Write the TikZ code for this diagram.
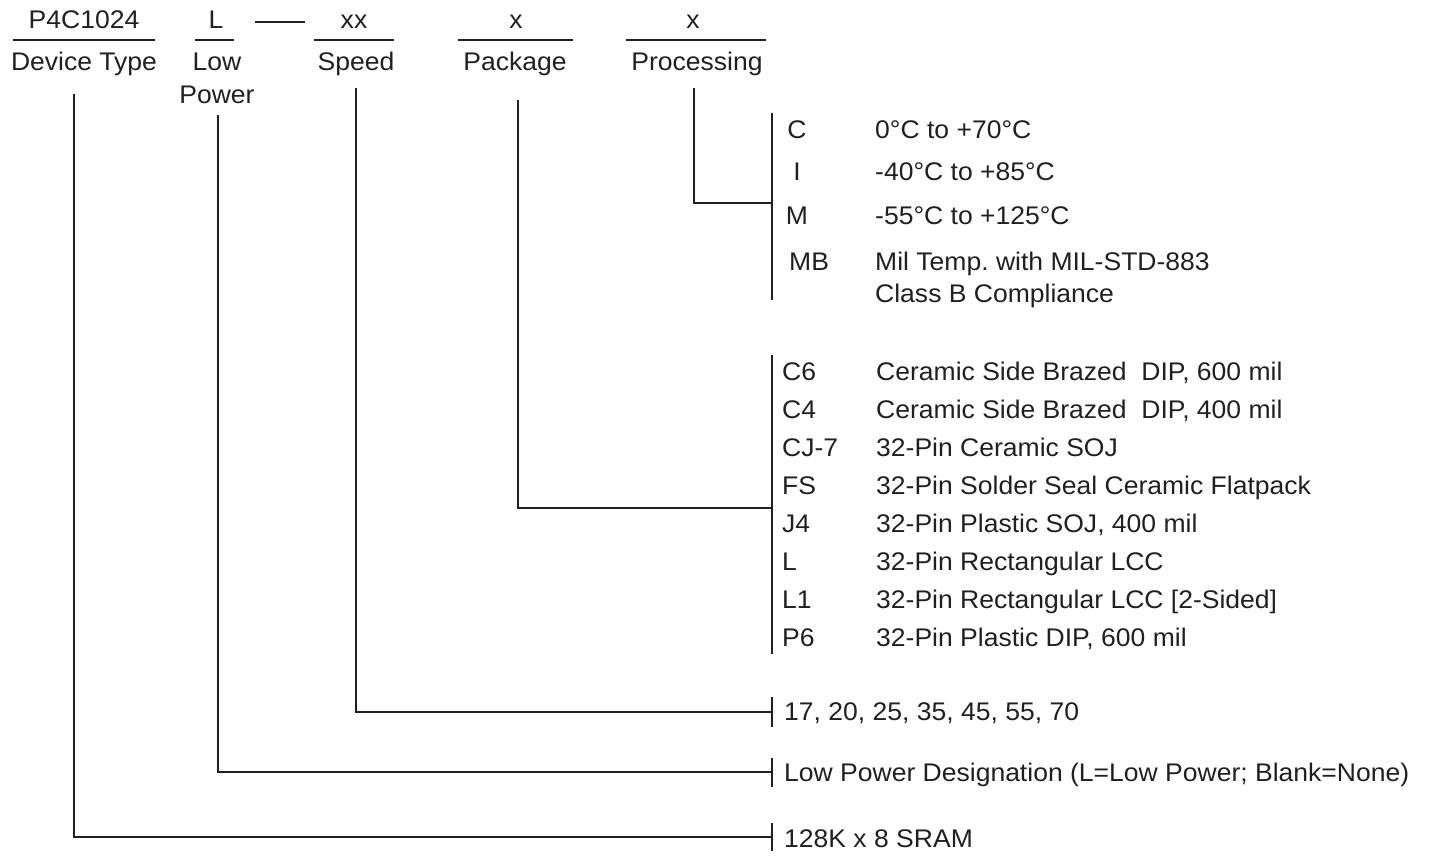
\documentclass[tikz,border=0pt]{standalone}
\usepackage{fontspec}
\setmainfont{Liberation Sans}[FakeStretch=1.04]
\definecolor{ink}{RGB}{35,31,32}
\tikzset{
  lbl/.style={inner sep=0pt, font=\fontsize{25.5}{29}\selectfont, text=ink},
  lt/.style={lbl, anchor=base west},
  ct/.style={lbl, anchor=base},
  ln/.style={line width=1.9pt, draw=ink},
}
\begin{document}
\begin{tikzpicture}[x=1pt,y=-1pt]
\useasboundingbox (0,0) rectangle (1429,856);

% ---------- header ----------
\node[ct] (pn)   at (84,29)  {P4C1024};
\node[ct] (dev)  at (84,71)  {Device Type};
\node[ct] (lv)   at (216,29) {L};
\node[ct] (low)  at (217,71) {Low};
\node[ct] (pow)  at (217,104) {Power};
\node[ct] (xx)   at (354,29) {xx};
\node[ct] (spd)  at (356,71) {Speed};
\node[ct] (xp)   at (516,29) {x};
\node[ct] (pkg)  at (515,71) {Package};
\node[ct] (xq)   at (693,29) {x};
\node[ct] (proc) at (697,71) {Processing};

\draw[ln] (13,40) -- (155,40);
\draw[ln] (195,40) -- (234,40);
\draw[ln] (255,22) -- (305,22);
\draw[ln] (314,40) -- (394,40);
\draw[ln] (458,40) -- (573,40);
\draw[ln] (626,40) -- (766,40);

% ---------- connector ends ----------
\coordinate (devT) at (74,94);
\coordinate (lowT) at (218,115);
\coordinate (spdT) at (356,88);
\coordinate (pkgT) at (518,100);
\coordinate (proT) at (694,88);

\coordinate (procTop) at (772,113);
\coordinate (procBot) at (772,300);
\coordinate (procJ)   at (772,203);
\coordinate (pkgTop)  at (772,355);
\coordinate (pkgBot)  at (772,654);
\coordinate (pkgJ)    at (772,508);
\coordinate (spdJ)    at (772,712);
\coordinate (spdA)    at (772,697);
\coordinate (spdB)    at (772,727);
\coordinate (lowJ)    at (772,772);
\coordinate (lowA)    at (772,758);
\coordinate (lowB)    at (772,787);
\coordinate (devJ)    at (772,837);
\coordinate (devA)    at (772,823);
\coordinate (devB)    at (772,851);

% buses and ticks
\draw[ln] (procTop) -- (procBot);
\draw[ln] (pkgTop) -- (pkgBot);
\draw[ln] (spdA) -- (spdB);
\draw[ln] (lowA) -- (lowB);
\draw[ln] (devA) -- (devB);

% connectors
\draw[ln] (proT) |- (procJ);
\draw[ln] (pkgT) |- (pkgJ);
\draw[ln] (spdT) |- (spdJ);
\draw[ln] (lowT) |- (lowJ);
\draw[ln] (devT) |- (devJ);

% ---------- processing ----------
\node[ct] (pC)  at (797,138.5) {C};
\node[ct] (pI)  at (797,180.5) {I};
\node[ct] (pM)  at (797,224.5) {M};
\node[lt] (pMB) at (789,270)   {MB};
\node[lt] (dC)  at (875,138.5) {0°C to +70°C};
\node[lt] (dI)  at (875,180.5) {-40°C to +85°C};
\node[lt] (dM)  at (875,224.5) {-55°C to +125°C};
\node[lt] (dMB) at (875,270)   {Mil Temp.\ with MIL-STD-883};
\node[lt] (dMB2) at (875,302)  {Class B Compliance};

% ---------- package ----------
\node[lt] (kC6) at (782,380) {C6};
\node[lt] (kC4) at (782,418) {C4};
\node[lt] (kCJ) at (782,456) {CJ-7};
\node[lt] (kFS) at (782,494.5) {FS};
\node[lt] (kJ4) at (782,532.5) {J4};
\node[lt] (kL)  at (782,570.5) {L};
\node[lt] (kL1) at (782,608.5) {L1};
\node[lt] (kP6) at (782,646.5) {P6};
\node[lt] (tC6) at (876,380) {Ceramic Side Brazed~ DIP, 600 mil};
\node[lt] (tC4) at (876,418) {Ceramic Side Brazed~ DIP, 400 mil};
\node[lt] (tCJ) at (876,456) {32-Pin Ceramic SOJ};
\node[lt] (tFS) at (876,494.5) {32-Pin Solder Seal Ceramic Flatpack};
\node[lt] (tJ4) at (876,532.5) {32-Pin Plastic SOJ, 400 mil};
\node[lt] (tL)  at (876,570.5) {32-Pin Rectangular LCC};
\node[lt] (tL1) at (876,608.5) {32-Pin Rectangular LCC [2-Sided]};
\node[lt] (tP6) at (876,646.5) {32-Pin Plastic DIP, 600 mil};

% ---------- bottom ----------
\node[lt] (sp)   at (784,720) {17, 20, 25, 35, 45, 55, 70};
\node[lt] (lpd)  at (784,781) {Low Power Designation (L=Low Power; Blank=None)};
\node[lt] (sram) at (784,847) {128K x 8 SRAM};
\end{tikzpicture}
\end{document}
